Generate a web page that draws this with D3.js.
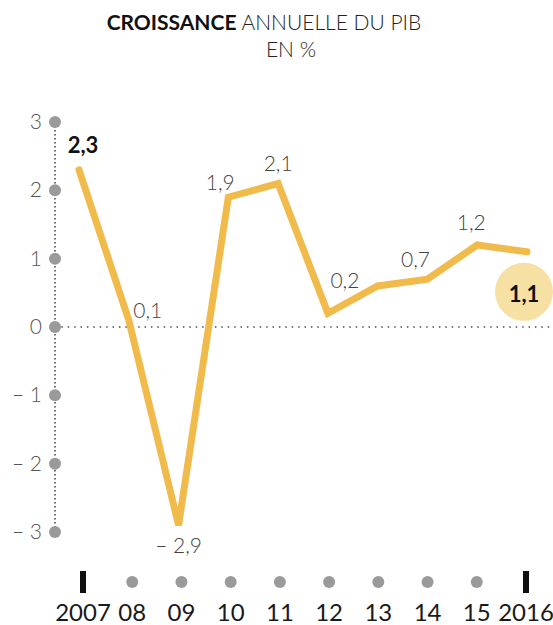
<!DOCTYPE html>
<html lang="fr">
<head>
    <meta charset="UTF-8">
    <title>Croissance annuelle du PIB</title>
    <style type="text/css">
        * {
            margin: 0;
            padding: 0;
        }

        body {
            background: #fff;
        }

        #chart-area {
            width: 553px;
            height: 625px;
        }

        text {
            font-family: Lato, "Open Sans", sans-serif;
        }
    </style>
</head>
<body>
<div id="chart-area"></div>
<script src="https://cdn.jsdelivr.net/npm/d3@7"></script>
<script type="text/javascript">

  const years = [2007, 2008, 2009, 2010, 2011, 2012, 2013, 2014, 2015, 2016]
  const yearLabels = ['2007', '08', '09', '10', '11', '12', '13', '14', '15', '2016']
  const growth = [2.3, 0.1, -2.9, 1.9, 2.1, 0.2, 0.6, 0.7, 1.2, 1.1]
  const valueLabels = ['2,3', '0,1', '\u2013 2,9', '1,9', '2,1', '0,2', '', '0,7', '1,2', '1,1']
  const yTicks = [3, 2, 1, 0, -1, -2, -3]
  const yTickLabels = ['3', '2', '1', '0', '\u2013 1', '\u2013 2', '\u2013 3']

  const WIDTH = 553
  const HEIGHT = 625
  const LINE_COLOR = '#f1bb4c'

  const svg = d3.select('#chart-area').append('svg')
      .attr('width', WIDTH)
      .attr('height', HEIGHT)

  const x = d3.scaleLinear()
      .domain([2007, 2016])
      .range([79, 527])

  const y = d3.scaleLinear()
      .domain([-3, 3])
      .range([532, 122])

  // title
  const title = svg.append('text')
      .attr('x', 264)
      .attr('y', 30)
      .attr('text-anchor', 'middle')
      .attr('font-size', 21)
      .attr('fill', '#111')
  title.append('tspan').attr('font-weight', 'bold').text('CROISSANCE')
  title.append('tspan').attr('font-weight', 300).attr('fill', '#222').text(' ANNUELLE DU PIB')

  svg.append('text')
      .attr('x', 291)
      .attr('y', 57)
      .attr('text-anchor', 'middle')
      .attr('font-size', 21)
      .attr('font-weight', 300)
      .attr('fill', '#222')
      .text('EN %')

  // dotted y axis and zero line
  svg.append('line')
      .attr('x1', 55).attr('x2', 55)
      .attr('y1', y(3)).attr('y2', y(-3))
      .attr('stroke', '#333')
      .attr('stroke-width', 1.4)
      .attr('stroke-dasharray', '1.4,2.6')

  svg.append('line')
      .attr('x1', 55).attr('x2', WIDTH)
      .attr('y1', y(0)).attr('y2', y(0))
      .attr('stroke', '#444')
      .attr('stroke-width', 1.4)
      .attr('stroke-dasharray', '1.4,5')

  svg.selectAll('.ydot')
      .data(yTicks)
      .enter()
      .append('circle')
      .attr('cx', 55)
      .attr('cy', (d) => y(d))
      .attr('r', 6)
      .attr('fill', '#9a9a9a')

  svg.selectAll('.ylab')
      .data(yTicks)
      .enter()
      .append('text')
      .attr('x', 42)
      .attr('y', (d) => y(d) + 7)
      .attr('text-anchor', 'end')
      .attr('font-size', 21)
      .attr('font-weight', 300)
      .attr('fill', '#555')
      .text((d, i) => yTickLabels[i])

  // x axis markers
  const xTickX = d3.scaleLinear().domain([2007, 2016]).range([83, 526])
  const xg = svg.selectAll('.xtick')
      .data(years)
      .enter()
      .append('g')
      .attr('transform', (d) => `translate(${xTickX(d)}, 582)`)

  xg.filter((d, i) => i === 0 || i === years.length - 1)
      .append('rect')
      .attr('x', -3)
      .attr('y', -11)
      .attr('width', 6)
      .attr('height', 22)
      .attr('fill', '#111')

  xg.filter((d, i) => i > 0 && i < years.length - 1)
      .append('circle')
      .attr('r', 6)
      .attr('fill', '#9a9a9a')

  xg.append('text')
      .attr('y', 39)
      .attr('text-anchor', 'middle')
      .attr('font-size', 24)
      .attr('fill', '#1a1a1a')
      .text((d, i) => yearLabels[i])

  // highlight bubble for last value
  const last = growth.length - 1
  svg.append('circle')
      .attr('cx', x(years[last]) - 3)
      .attr('cy', y(growth[last]) + 40)
      .attr('r', 29)
      .attr('fill', '#f7e0a4')

  // line
  const line = d3.line()
      .x((d, i) => x(years[i]))
      .y((d) => y(d))

  svg.append('path')
      .datum(growth)
      .attr('d', line)
      .attr('fill', 'none')
      .attr('stroke', LINE_COLOR)
      .attr('stroke-width', 7)
      .attr('stroke-linejoin', 'miter')
      .attr('stroke-miterlimit', 3)
      .attr('stroke-linecap', 'round')

  // value labels
  const labelOffsets = [
    [4, -17], [19, -2], [0, 28], [-8, -7], [0, -13],
    [17, -25], [0, 0], [-12, -12], [-6, -15], [-3, 50]
  ]

  svg.selectAll('.vlab')
      .data(growth)
      .enter()
      .append('text')
      .attr('x', (d, i) => x(years[i]) + labelOffsets[i][0])
      .attr('y', (d, i) => y(d) + labelOffsets[i][1])
      .attr('text-anchor', 'middle')
      .attr('font-size', (d, i) => (i === 0 || i === last) ? 22 : 21)
      .attr('font-weight', (d, i) => (i === 0 || i === last) ? 'bold' : 300)
      .attr('fill', (d, i) => (i === 0 || i === last) ? '#111' : '#444')
      .text((d, i) => valueLabels[i])

</script>
</body>
</html>
